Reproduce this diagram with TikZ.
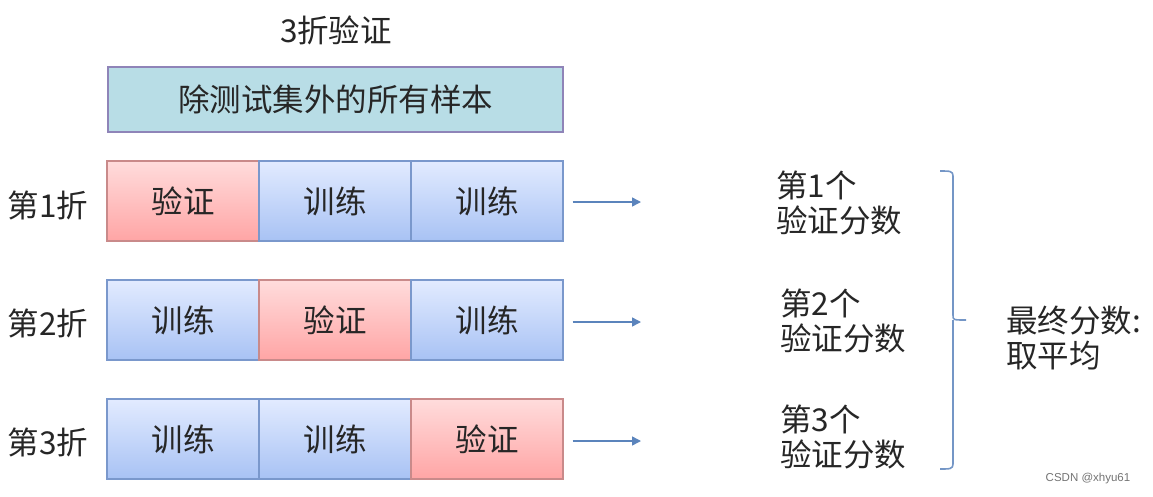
\documentclass[tikz,border=0pt]{standalone}
\usepackage{fontspec}
\setmainfont{Noto Sans CJK SC}
\newfontfamily\wmfont{Liberation Sans}
\usetikzlibrary{arrows.meta}
\definecolor{redtop}{HTML}{FFDCDC}
\definecolor{redbot}{HTML}{FFA5A5}
\definecolor{redline}{HTML}{C98A8A}
\definecolor{bluetop}{HTML}{E2EBFF}
\definecolor{bluebot}{HTML}{A8C2F4}
\definecolor{blueline}{HTML}{7A98CC}
\definecolor{teal}{HTML}{B8DDE6}
\definecolor{violet}{HTML}{8F84B8}
\definecolor{arrowc}{HTML}{5B84BC}
\tikzset{
  x=1pt, y=-1pt,
  bigfont/.style={font=\fontsize{31.5}{35.5}\selectfont},
  txt/.style={bigfont, text=black!85, inner sep=0pt},
  valbox/.style={draw=redline, line width=1.2pt, top color=redtop, bottom color=redbot, minimum width=152pt, minimum height=80pt, inner sep=0pt, bigfont, text=black!85},
  trnbox/.style={draw=blueline, line width=1.2pt, top color=bluetop, bottom color=bluebot, minimum width=152pt, minimum height=80pt, inner sep=0pt, bigfont, text=black!85},
  conn/.style={draw=arrowc, line width=1.5pt, -{Triangle[length=9pt,width=9pt]}},
}
\begin{document}
\begin{tikzpicture}
\useasboundingbox (0,0) rectangle (1153,496);
\node[txt] (title) at (336,30) {3折验证};
\node[draw=violet, line width=1.5pt, fill=teal, minimum width=455pt, minimum height=65pt, inner sep=0pt, bigfont, text=black!85] (all) at (335.5,99.5) {除测试集外的所有样本};

% row 1
\node[valbox] (r1a) at (183,201) {验证};
\node[trnbox] (r1b) at (335,201) {训练};
\node[trnbox] (r1c) at (487,201) {训练};
% row 2
\node[trnbox] (r2a) at (183,320) {训练};
\node[valbox] (r2b) at (335,320) {验证};
\node[trnbox] (r2c) at (487,320) {训练};
% row 3
\node[trnbox] (r3a) at (183,439) {训练};
\node[trnbox] (r3b) at (335,439) {训练};
\node[valbox] (r3c) at (487,439) {验证};

\node[txt] (f1) at (48,205) {第1折};
\node[txt] (f2) at (48,323) {第2折};
\node[txt] (f3) at (48,442) {第3折};

\coordinate (e1) at (641,202);
\coordinate (e2) at (641,322);
\coordinate (e3) at (641,441);
\draw[conn] ([xshift=9pt]r1c.east |- e1) -- (e1);
\draw[conn] ([xshift=9pt]r2c.east |- e2) -- (e2);
\draw[conn] ([xshift=9pt]r3c.east |- e3) -- (e3);

\node[txt, anchor=west, align=left] (s1) at (776,203) {第1个\\验证分数};
\node[txt, anchor=west, align=left] (s2) at (780,321) {第2个\\验证分数};
\node[txt, anchor=west, align=left] (s3) at (780,437) {第3个\\验证分数};

\draw[draw=arrowc!85, line width=1.6pt, line join=round]
  (940,171) .. controls (950,171) and (953,171) .. (953,176)
  -- (953,315) .. controls (953,320) .. (966,320)
  (953,320) .. controls (953,322) .. (953,326)
  -- (953,464) .. controls (953,469) and (950,469) .. (940,469);
\coordinate (bracetip) at (966,320);

\node[txt, anchor=west, align=left] (final) at (1006,338) {最终分数:\\取平均};

\node[font=\wmfont\fontsize{11.5}{13}\selectfont, text=black!55, inner sep=0pt] (wm) at (1088,479) {CSDN @xhyu61};
\end{tikzpicture}
\end{document}
